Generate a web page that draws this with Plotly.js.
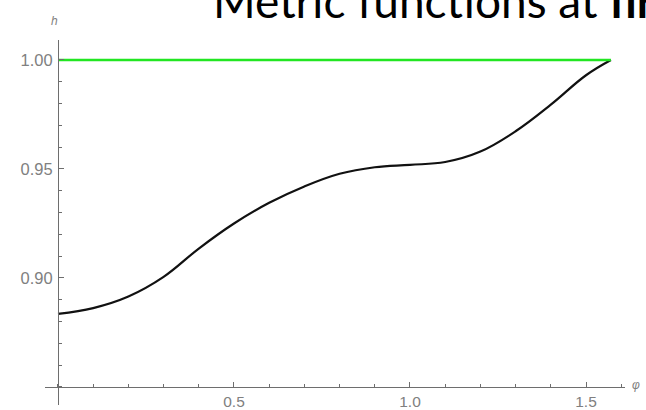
<!DOCTYPE html>
<html>
<head>
<meta charset="utf-8">
<script src="https://cdn.plot.ly/plotly-3.0.1.min.js"></script>
<style>html,body{margin:0;padding:0;background:#fff;}#chart{width:646px;height:410px;}</style>
</head>
<body>
<div id="chart"></div>
<script>
// Data
var phi = [0, 0.1, 0.2, 0.3, 0.4, 0.5, 0.6, 0.7, 0.8, 0.9, 1.0, 1.1, 1.2, 1.3, 1.4, 1.5, 1.5708];
var hValues = [0.8835, 0.8862, 0.8915, 0.9005, 0.9135, 0.9250, 0.9345, 0.9420, 0.9478, 0.9508, 0.9519, 0.9532, 0.9580, 0.9673, 0.9795, 0.9930, 1.0];
var flatPhi = [0, 1.5708];
var flatValues = [1.0, 1.0];
var xTickVals = [0.5, 1.0, 1.5];
var xTickText = ['0.5', '1.0', '1.5'];
var yTickVals = [0.90, 0.95, 1.00];
var yTickText = ['0.90', '0.95', '1.00'];
var titleText = 'Metric functions at <b>firs</b>';

var W = 646, H = 410;
var L = 45, R = 21, T = 40, B = 5;
var xr = [-0.0369, 1.6108];
var yr = [0.84174, 1.00917];
var axisColor = '#6e6e6e';
var labelColor = '#808080';
function px2paperX(p) { return (p - L) / (W - L - R); }
function px2paperY(p) { return (H - B - p) / (H - T - B); }

var traces = [
  {x: phi, y: hValues, mode: 'lines', line: {color: '#111111', width: 2.2, shape: 'spline', smoothing: 1.1}, hoverinfo: 'skip'},
  {x: flatPhi, y: flatValues, mode: 'lines', line: {color: '#22e622', width: 2.6}, hoverinfo: 'skip'}
];

var layout = {
  width: W, height: H,
  margin: {l: L, r: R, t: T, b: B, pad: 0},
  paper_bgcolor: '#ffffff', plot_bgcolor: '#ffffff',
  showlegend: false,
  font: {family: 'Liberation Sans, Arial, sans-serif', size: 16, color: labelColor},
  xaxis: {
    range: xr, anchor: 'free', position: (0.85 - yr[0]) / (yr[1] - yr[0]),
    showline: true, linecolor: axisColor, linewidth: 1,
    showgrid: false, zeroline: false,
    ticks: 'inside', ticklen: 5, tickcolor: axisColor, tickwidth: 1,
    tickmode: 'array', tickvals: xTickVals, ticktext: xTickText,
    tickfont: {size: 15.5, color: labelColor}, ticklabelstandoff: 0,
    minor: {dtick: 0.1, tick0: 0, ticks: 'inside', ticklen: 3, tickcolor: axisColor, showgrid: false}
  },
  yaxis: {
    range: yr, anchor: 'free', position: (0 - xr[0]) / (xr[1] - xr[0]),
    showline: true, linecolor: axisColor, linewidth: 1,
    showgrid: false, zeroline: false,
    ticks: 'inside', ticklen: 5, tickcolor: axisColor, tickwidth: 1,
    tickmode: 'array', tickvals: yTickVals, ticktext: yTickText,
    tickfont: {size: 16.5, color: labelColor}, ticklabelstandoff: 2,
    minor: {dtick: 0.01, tick0: 0.85, ticks: 'inside', ticklen: 3, tickcolor: axisColor, showgrid: false}
  },
  annotations: [
    {text: '<i>h</i>', xref: 'paper', yref: 'paper', x: px2paperX(54), y: px2paperY(21), xanchor: 'center', yanchor: 'middle', showarrow: false, font: {size: 12, color: labelColor}},
    {text: '<i>φ</i>', xref: 'paper', yref: 'paper', x: px2paperX(636), y: px2paperY(385), xanchor: 'center', yanchor: 'middle', showarrow: false, font: {size: 12, color: labelColor}},
    {text: titleText, xref: 'paper', yref: 'paper', x: px2paperX(211), y: px2paperY(0), xanchor: 'left', yanchor: 'middle', showarrow: false, font: {family: 'Lato, sans-serif', size: 46, color: '#000000'}}
  ]
};

Plotly.newPlot('chart', traces, layout, {staticPlot: true, displayModeBar: false});
</script>
</body>
</html>
